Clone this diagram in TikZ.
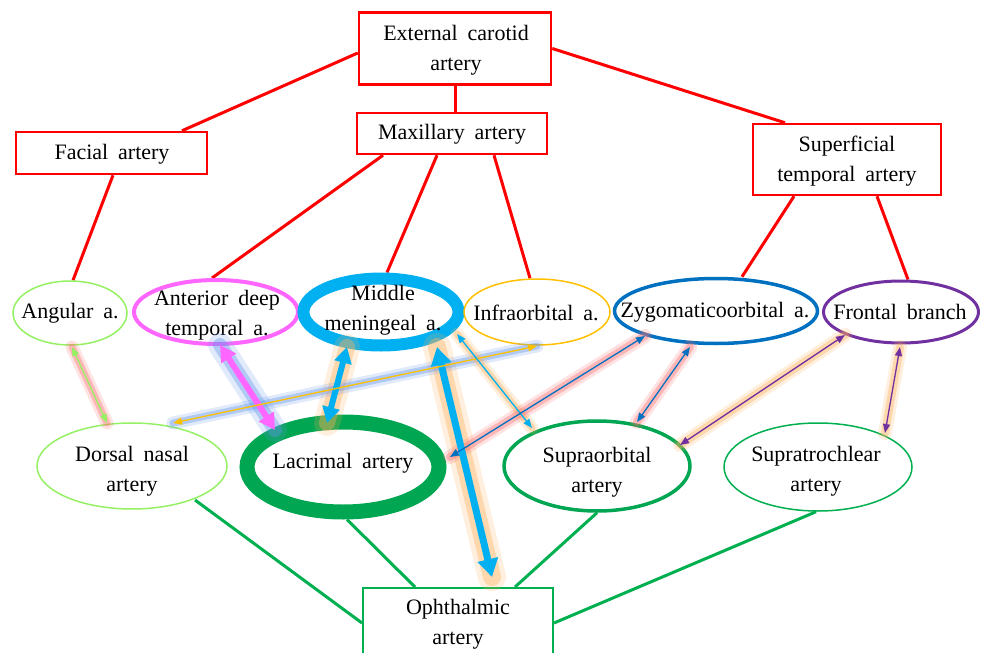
\documentclass[tikz,border=0pt]{standalone}
\usepackage{fontspec}
\setmainfont{Liberation Serif}[WordSpace=1.8]
\usetikzlibrary{arrows.meta,shapes.geometric,calc,backgrounds}
\definecolor{cred}{RGB}{255,0,0}
\definecolor{lgreen}{RGB}{150,240,100}
\definecolor{cmag}{RGB}{255,102,255}
\definecolor{cyanb}{RGB}{0,176,240}
\definecolor{gold}{RGB}{255,192,0}
\definecolor{oblue}{RGB}{0,112,192}
\definecolor{purp}{RGB}{112,48,160}
\definecolor{ogreen}{RGB}{0,176,80}
\definecolor{dgreen}{RGB}{0,166,81}
\definecolor{gpink}{RGB}{255,110,110}
\definecolor{gorange}{RGB}{255,175,90}
\definecolor{gblue}{RGB}{100,150,235}
\tikzset{
  txt/.style={font=\fontsize{22}{30}\selectfont, align=center, inner sep=0pt},
  box/.style={draw=cred, line width=2.5pt, fill=white, rectangle, inner sep=0pt},
  oval/.style={ellipse, fill=white, inner sep=0pt},
  redline/.style={draw=cred, line width=3pt},
  greenline/.style={draw=ogreen, line width=3pt},
  thintip/.style={{Triangle[length=9pt,width=7pt]}-{Triangle[length=9pt,width=7pt]}},
}
\newcommand{\glw}[5]{%
  \draw[#1, line width=#2, opacity=.2, line cap=round] (#4) -- (#5);
  \draw[#1, line width=#3, opacity=.38, line cap=round] (#4) -- (#5);}
\begin{document}
\begin{tikzpicture}[x=1pt,y=-1pt]
\useasboundingbox (0,0) rectangle (983,653);
\clip (0,0) rectangle (983,653);
% boxes
\node[box, minimum width=192pt, minimum height=72pt] (ext) at (455,48.5) {};
\node[box, minimum width=190pt, minimum height=41pt] (max) at (452,133.5) {};
\node[box, minimum width=191pt, minimum height=42pt] (fac) at (111.5,153) {};
\node[box, minimum width=188pt, minimum height=71pt] (sup) at (847,159.5) {};
\node[box, draw=ogreen, line width=2pt, minimum width=190pt, minimum height=76pt] (oph) at (458,626) {};
% ellipses
\node[oval, draw=lgreen, line width=1.5pt, minimum width=114pt, minimum height=64pt] (ang) at (70,313) {};
\node[oval, draw=cmag, line width=4pt, minimum width=164pt, minimum height=64pt] (adt) at (216,312) {};
\node[oval, draw=cyanb, line width=12pt, minimum width=155pt, minimum height=67pt] (mm) at (381,312) {};
\node[oval, draw=gold, line width=1.5pt, minimum width=146pt, minimum height=66pt] (inf) at (537,312) {};
\node[oval, draw=oblue, line width=3.5pt, minimum width=203pt, minimum height=65pt] (zyg) at (716,311) {};
\node[oval, draw=purp, line width=3pt, minimum width=155pt, minimum height=62pt] (fro) at (901,312) {};
\node[oval, draw=lgreen, line width=1.5pt, minimum width=190pt, minimum height=86pt] (dn) at (132,466) {};
\node[oval, draw=dgreen, line width=15pt, minimum width=192pt, minimum height=90pt] (lac) at (343,467) {};
\node[oval, draw=dgreen, line width=3.5pt, minimum width=186pt, minimum height=90pt] (spo) at (597,466) {};
\node[oval, draw=ogreen, line width=1.5pt, minimum width=188pt, minimum height=88pt] (spt) at (818,467) {};
% texts
\node[txt] (extt) at (456,50) {External carotid\\artery};
\node[txt] (maxt) at (452,134) {Maxillary artery};
\node[txt] (fact) at (112,154) {Facial artery};
\node[txt] (supt) at (847,161) {Superficial\\temporal artery};
\node[txt] (opht) at (458,624) {Ophthalmic\\artery};
\node[txt] (angt) at (70,313) {Angular a.};
\node[txt] (adtt) at (217,315) {Anterior deep\\temporal a.};
\node[txt] (mmt) at (383,310) {Middle\\meningeal a.};
\node[txt] (inft) at (536,313) {Infraorbital a.};
\node[txt] (zygt) at (715,312) {Zygomaticoorbital a.};
\node[txt] (frot) at (900,312) {Frontal branch};
\node[txt] (dnt) at (132,471) {Dorsal nasal\\artery};
\node[txt] (lact) at (343,463) {Lacrimal artery};
\node[txt] (spot) at (597,472) {Supraorbital\\artery};
\node[txt] (sptt) at (816,471) {Supratrochlear\\artery};
% tree connectors
\begin{scope}[on background layer]
\draw[redline] ($(ext.west)+(0,4.5)$) -- ($(fac.north)+(70.5,0)$);
\draw[redline] (ext.south) -- (max.north -| ext.south);
\draw[redline] (ext.east) -- ($(sup.north)+(-62,0)$);
\draw[redline] ($(fac.south)+(1.5,0)$) -- ($(ang.north)+(3,0)$);
\draw[redline] ($(max.south)+(-69,0)$) -- ($(adt.north)+(-4,0)$);
\draw[redline] ($(max.south)+(-15,0)$) -- ($(mm.north)+(6,0)$);
\draw[redline] ($(max.south)+(42,0)$) -- ($(inf.north)+(-7,0)$);
\draw[redline] ($(sup.south)+(-53,0)$) -- ($(zyg.north)+(26,0)$);
\draw[redline] ($(sup.south)+(30,0)$) -- ($(fro.north)+(7,0)$);
\draw[greenline] ($(dn)+(63,34)$) -- ($(oph.west)+(0,-3)$);
\draw[greenline] ($(lac.south)+(4,0)$) -- ($(oph.north)+(-43,0)$);
\draw[greenline] (spo.south) -- ($(oph.north)+(57,0)$);
\draw[greenline] ($(spt.south)+(-2,0)$) -- ($(oph.east)+(0,-3)$);
\end{scope}
% arrow end points
\coordinate (a1s) at ($(ang)+(2,34)$);   \coordinate (a1e) at ($(dn)+(-25,-43)$);
\coordinate (a2s) at ($(adt)+(4,33)$);   \coordinate (a2e) at ($(lac)+(-68,-37)$);
\coordinate (a3s) at ($(mm)+(-34,35)$);  \coordinate (a3e) at ($(lac)+(-16,-44)$);
\coordinate (a4s) at ($(mm)+(56,35)$);   \coordinate (a4e) at ($(oph)+(34,-49)$);
\coordinate (a5s) at ($(dn)+(41,-43)$);  \coordinate (a5e) at ($(inf)+(0,34)$);
\coordinate (a6s) at ($(mm)+(76,22)$);   \coordinate (a6e) at ($(spo)+(-65,-38)$);
\coordinate (a7s) at ($(zyg)+(-71,25)$); \coordinate (a7e) at ($(lac)+(107,-10)$);
\coordinate (a8s) at ($(zyg)+(-26,36)$); \coordinate (a8e) at ($(spo)+(40,-44)$);
\coordinate (a9s) at ($(fro)+(-56,23)$); \coordinate (a9e) at ($(spo)+(83,-21)$);
\coordinate (a10s) at ($(fro)+(-1,35)$); \coordinate (a10e) at ($(spt)+(67,-34)$);
% glows
\glw{gpink}{13pt}{7pt}{a1s}{a1e}
\glw{gblue}{24pt}{14pt}{a2s}{a2e}
\glw{gorange}{26pt}{16pt}{a3s}{a3e}
\glw{gorange}{28pt}{18pt}{a4s}{a4e}
\glw{gblue}{13pt}{7pt}{a5s}{a5e}
\glw{gorange}{13pt}{7pt}{a6s}{a6e}
\glw{gpink}{14pt}{8pt}{a7s}{a7e}
\glw{gpink}{14pt}{8pt}{a8s}{a8e}
\glw{gorange}{14pt}{8pt}{a9s}{a9e}
\glw{gorange}{14pt}{8pt}{a10s}{a10e}
% arrows
\draw[lgreen, line width=1.3pt, thintip] (a1s) -- (a1e);
\draw[cmag, line width=6pt, {Triangle[length=16pt,width=17pt]}-{Triangle[length=16pt,width=17pt]}] (a2s) -- (a2e);
\draw[cyanb, line width=6pt, {Triangle[length=16pt,width=17pt]}-{Triangle[length=16pt,width=17pt]}] (a3s) -- (a3e);
\draw[cyanb, line width=7pt, {Triangle[length=18pt,width=20pt]}-{Triangle[length=18pt,width=20pt]}] (a4s) -- (a4e);
\draw[gold, line width=1.3pt, thintip] (a5s) -- (a5e);
\draw[cyanb, line width=1.3pt, thintip] (a6s) -- (a6e);
\draw[oblue, line width=1.3pt, thintip] (a7s) -- (a7e);
\draw[oblue, line width=1.3pt, thintip] (a8s) -- (a8e);
\draw[purp, line width=1.3pt, thintip] (a9s) -- (a9e);
\draw[purp, line width=1.3pt, thintip] (a10s) -- (a10e);
\end{tikzpicture}
\end{document}
